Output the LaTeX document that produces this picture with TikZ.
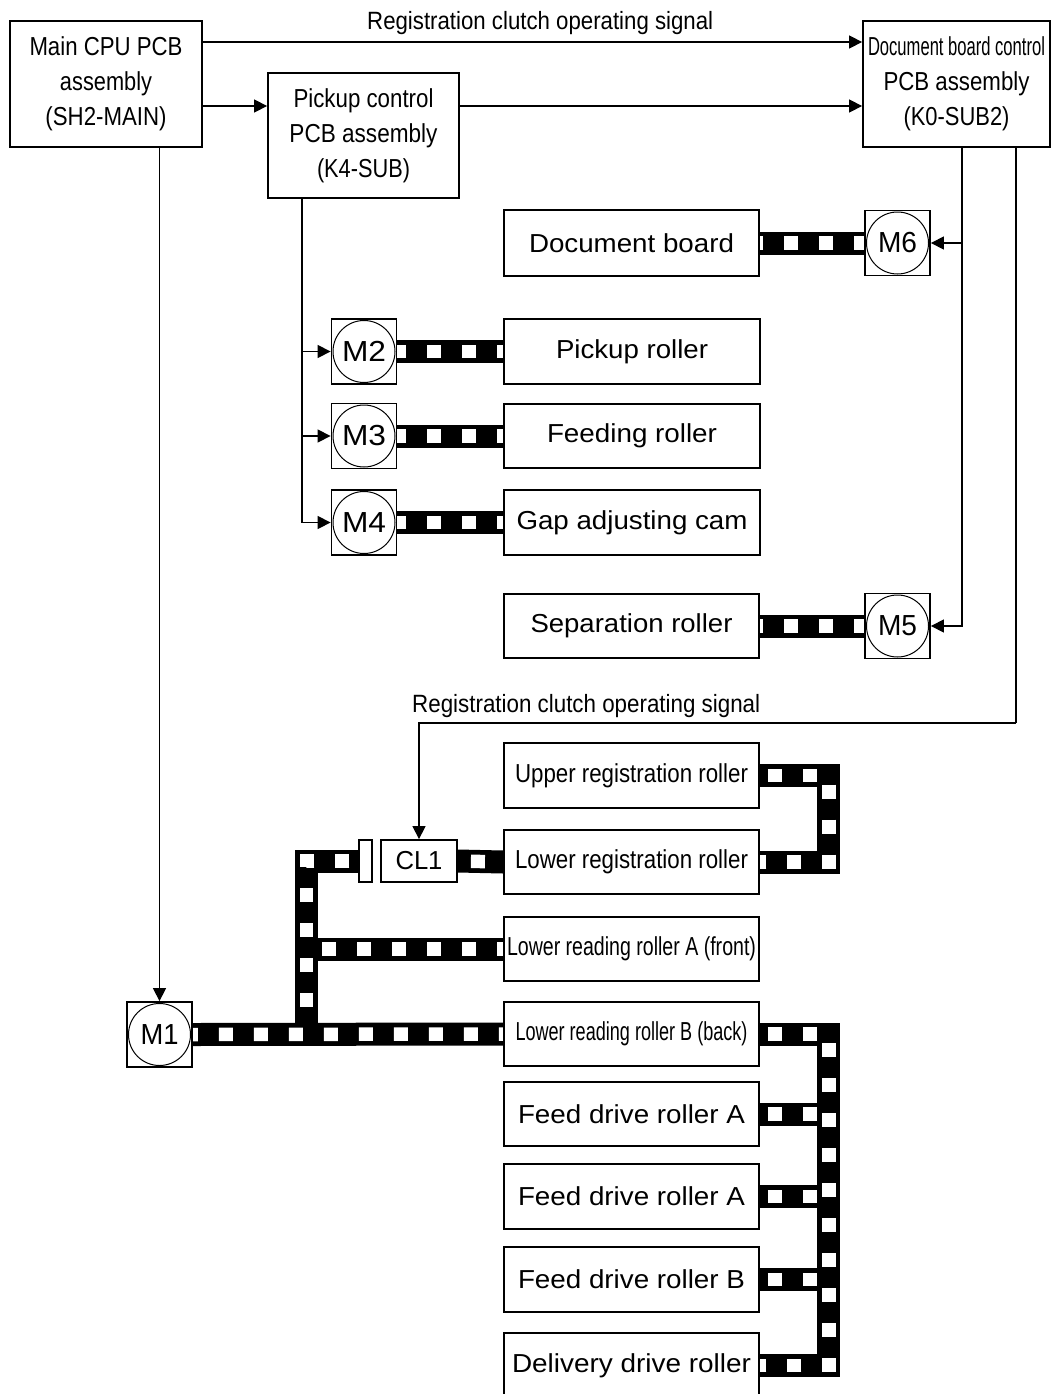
\documentclass[tikz,border=0pt]{standalone}
\usepackage{fontspec}
\setmainfont{Liberation Sans}
\usepackage{graphicx}
\usetikzlibrary{arrows.meta,backgrounds}
\newcommand\tw[2]{\resizebox{#1pt}{\height}{#2}}
\begin{document}
\begin{tikzpicture}[x=1pt,y=-1pt,
  box/.style={draw, line width=1.8pt, fill=white, inner sep=0pt, align=center, font=\fontsize{26}{35}\selectfont},
  bx/.style n args={2}{box, minimum width=#1pt, minimum height=#2pt},
  mot/.style={box, minimum width=65pt, minimum height=65pt, font=\fontsize{29}{30}\selectfont,
    path picture={\draw[line width=1pt] (path picture bounding box.center) circle (31pt);}},
  arr/.style={line width=1.3pt, -{Triangle[length=13pt,width=13pt]}},
  ln/.style={line width=1.3pt},
  belt/.style={line width=23pt, draw=black, line join=miter,
    postaction={draw=white, line width=13.5pt, dash pattern=on 14pt off 21pt, dash phase=#1}},
  belt/.default=4pt,
  lbl/.style={inner sep=0pt, anchor=base west, font=\fontsize{25}{30}\selectfont}]
\useasboundingbox (0,0) rectangle (1052,1394);
\clip (0,0) rectangle (1052,1394);

% control boards
\node[bx={192}{126}] (main) at (106,84) {\tw{153}{Main CPU PCB}\\\tw{92}{assembly}\\\tw{121}{(SH2-MAIN)}};
\node[bx={191}{125}] (pick) at (363.5,135.5) {\tw{140}{Pickup control}\\\tw{148}{PCB assembly}\\\tw{93}{(K4-SUB)}};
\node[bx={187}{126}] (doc) at (956.5,84) {\tw{177}{Document board control}\\\tw{146}{PCB assembly}\\\tw{106}{(K0-SUB2)}};

% upper section
\node[bx={255}{66}] (dboard) at (631.5,243) {\tw{205}{Document board}};
\node[mot] (m6) at (897.5,243) {\tw{39}{M6}};
\node[mot] (m2) at (364,351.5) {\tw{44}{M2}};
\node[bx={256}{65}] (pr) at (632,351.5) {\tw{152}{Pickup roller}};
\node[mot] (m3) at (364,436) {\tw{44}{M3}};
\node[bx={256}{64}] (fr) at (632,436) {\tw{170}{Feeding roller}};
\node[mot] (m4) at (364,522.5) {\tw{44}{M4}};
\node[bx={256}{65}] (gac) at (632,522.5) {\tw{231}{Gap adjusting cam}};
\node[bx={255}{64}] (sep) at (631.5,626) {\tw{202}{Separation roller}};
\node[mot] (m5) at (897.5,626) {\tw{39}{M5}};

% lower section
\node[bx={255}{65}] (urr) at (631.5,775.5) {\tw{233}{Upper registration roller}};
\node[bx={255}{64}] (lrr) at (631.5,862) {\tw{233}{Lower registration roller}};
\node[bx={76}{42}] (cl1) at (419,861) {\tw{47}{CL1}};
\node[draw, line width=1.5pt, fill=white, minimum width=13pt, minimum height=42pt, inner sep=0pt] (plate) at (365.5,861) {};
\node[bx={255}{64}] (lra) at (631.5,949) {\tw{249}{Lower reading roller A (front)}};
\node[bx={255}{64}] (lrb) at (631.5,1034) {\tw{232}{Lower reading roller B (back)}};
\node[mot] (m1) at (159.5,1034.5) {\tw{38}{M1}};
\node[bx={255}{64}] (fa1) at (631.5,1114) {\tw{227}{Feed drive roller A}};
\node[bx={255}{65}] (fa2) at (631.5,1196.5) {\tw{227}{Feed drive roller A}};
\node[bx={255}{65}] (fb) at (631.5,1279.5) {\tw{227}{Feed drive roller B}};
\node[bx={255}{65}] (del) at (631.5,1365.5) {\tw{239}{Delivery drive roller}};

% labels
\node[lbl] (lab1) at (367,30) {\tw{346}{Registration clutch operating signal}};
\node[lbl] (lab2) at (412,712) {\tw{348}{Registration clutch operating signal}};

% signal lines
\draw[arr] ([yshift=42pt]main.east) -- ([yshift=42pt]doc.west);
\draw[arr] ([yshift=-22pt]main.east) coordinate (a2) -- (a2 -| pick.west);
\draw[arr] (pick.east |- a2) -- (doc.west |- a2);
\draw[arr] (m1.north |- main.south) -- (m1.north);
\coordinate (pv) at ([xshift=-61.5pt]pick.south);
\draw[arr] (pv) |- (m4.west);
\draw[arr] (pv |- m2.west) -- (m2.west);
\draw[arr] (pv |- m3.west) -- (m3.west);
\coordinate (dv1) at ([xshift=5.5pt]doc.south);
\coordinate (dv2) at ([xshift=59.5pt]doc.south);
\draw[arr] (dv1) |- (m5.east);
\draw[arr] (dv1 |- m6.east) -- (m6.east);
\draw[ln] (dv2) -- ++(0,575) coordinate (sc2);
\coordinate (sc) at (sc2 -| cl1.north);
\draw[arr] (sc2) -- (sc) -- (cl1.north);

% belts
\begin{pgfonlayer}{background}
\fill[white] (0,0) rectangle (1052,1394);
\draw[belt] (m6.west) -- (dboard.east);
\draw[belt=5pt] (m2.east) -- (pr.west);
\draw[belt=5pt] (m3.east) -- (fr.west);
\draw[belt=5pt] (m4.east) -- (gac.west);
\draw[belt] (m5.west) -- (sep.east);
\draw[belt=22pt] (cl1.east) -- (lrr.west);
\draw[belt=27pt] (urr.east) -- ++(69,0) |- (lrr.east);
\coordinate (lv) at ([xshift=-52pt]plate.west);
\draw[belt=19pt] (lv |- lra.west) -- (lra.west);
\draw[belt=26pt] (plate.west) -- (lv) -- (lv |- m1.east);
\draw[belt=9pt] (m1.east) -- (lrb.west);
\coordinate (rv) at ([xshift=69pt]lrb.east);
\draw[belt=27pt] (fa1.east) -- (fa1.east -| rv);
\draw[belt=27pt] (fa2.east) -- (fa2.east -| rv);
\draw[belt=27pt] (fb.east) -- (fb.east -| rv);
\draw[belt=27pt] (lrb.east) -- (rv) |- (del.east);
\end{pgfonlayer}
\end{tikzpicture}
\end{document}
